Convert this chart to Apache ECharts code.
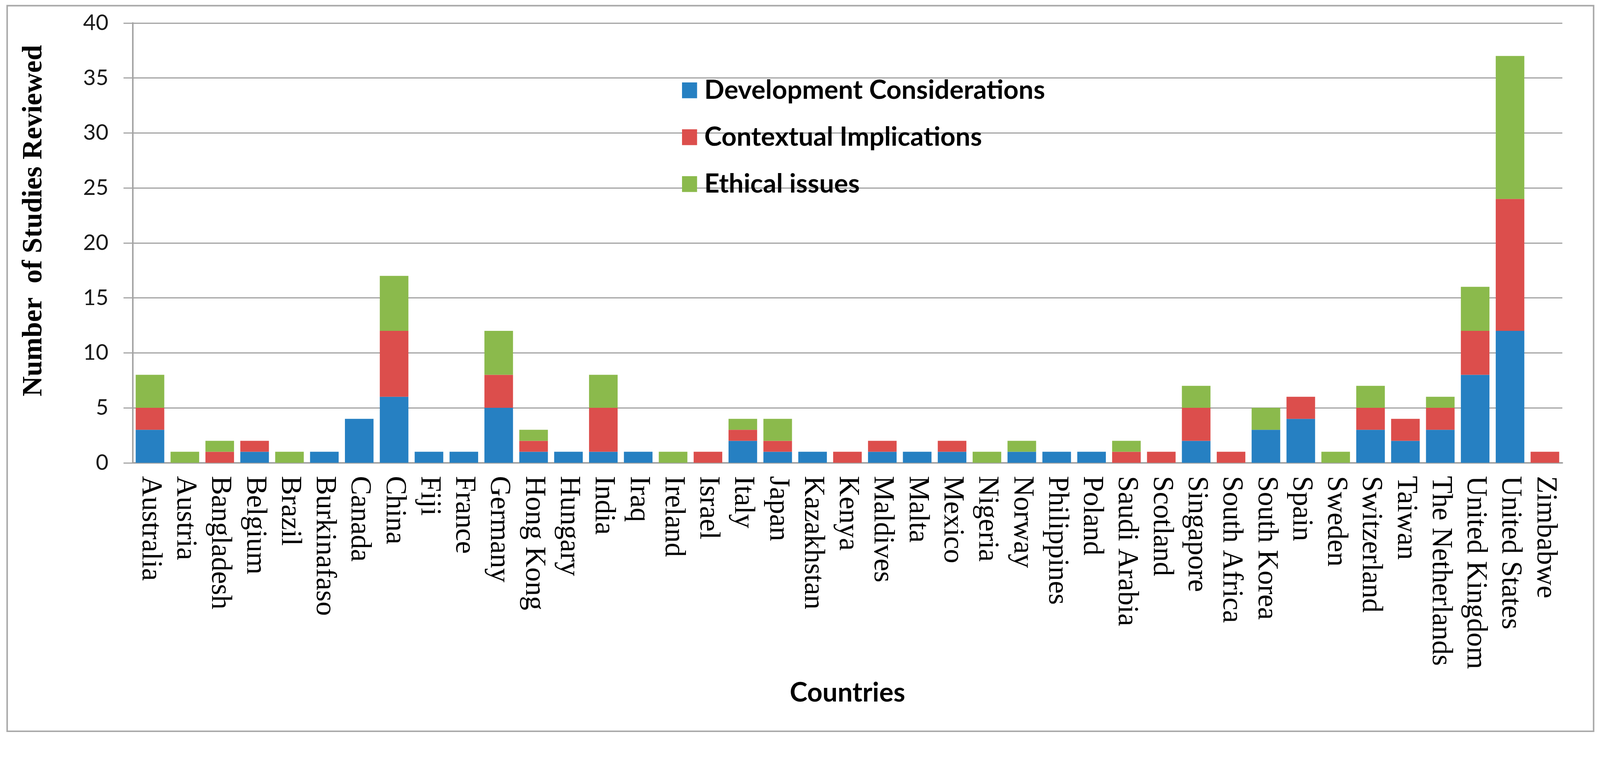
<!DOCTYPE html>
<html>
<head>
<meta charset="utf-8">
<title>Studies reviewed by country</title>
<script src="https://cdn.jsdelivr.net/npm/echarts@6/dist/echarts.min.js"></script>
<style>
    html, body { margin: 0; padding: 0; background: #fff; overflow: hidden; }
    #chart { width: 100vw; height: 100vh; }
</style>
</head>
<body>
<div id="chart"></div>
<script>
    var countries = ['Australia', 'Austria', 'Bangladesh', 'Belgium', 'Brazil', 'Burkinafaso',
        'Canada', 'China', 'Fiji', 'France', 'Germany', 'Hong Kong', 'Hungary', 'India', 'Iraq',
        'Ireland', 'Israel', 'Italy', 'Japan', 'Kazakhstan', 'Kenya', 'Maldives', 'Malta',
        'Mexico', 'Nigeria', 'Norway', 'Philippines', 'Poland', 'Saudi Arabia', 'Scotland',
        'Singapore', 'South Africa', 'South Korea', 'Spain', 'Sweden', 'Switzerland', 'Taiwan',
        'The Netherlands', 'United Kingdom', 'United States', 'Zimbabwe'];

    var development = [3, 0, 0, 1, 0, 1, 4, 6, 1, 1, 5, 1, 1, 1, 1, 0, 0, 2, 1, 1, 0,
        1, 1, 1, 0, 1, 1, 1, 0, 0, 2, 0, 3, 4, 0, 3, 2, 3, 8, 12, 0];
    var contextual = [2, 0, 1, 1, 0, 0, 0, 6, 0, 0, 3, 1, 0, 4, 0, 0, 1, 1, 1, 0, 1,
        1, 0, 1, 0, 0, 0, 0, 1, 1, 3, 1, 0, 2, 0, 2, 2, 2, 4, 12, 1];
    var ethical = [3, 1, 1, 0, 1, 0, 0, 5, 0, 0, 4, 1, 0, 3, 0, 1, 0, 1, 2, 0, 0,
        0, 0, 0, 1, 1, 0, 0, 1, 0, 2, 0, 2, 0, 1, 2, 0, 1, 4, 13, 0];

    var seriesNames = ['Development Considerations', 'Contextual Implications', 'Ethical issues'];
    var colors = ['#2680c2', '#dc4e4c', '#8bba4c'];

    var gridColor = '#a3a3a3';
    var sans = 'Lato, "Open Sans", sans-serif';
    var serif = '"Liberation Serif", "Times New Roman", serif';

    var el = document.getElementById('chart');
    // layout was measured on a 4249 x 1961 picture; scale to whatever the viewport really is
    var s = Math.min(el.clientWidth / 4249, el.clientHeight / 1961);
    var px = function (v) { return Math.round(v * s * 100) / 100; };

    var myChart = echarts.init(el);

    var makeSeries = function (name, data) {
        return {
            name: name,
            type: 'bar',
            stack: 'total',
            barCategoryGap: '18%',
            data: data
        };
    };

    myChart.setOption({
        animation: false,
        backgroundColor: '#fff',
        color: colors,
        grid: { left: px(352), right: el.clientWidth - px(4149), top: px(61), bottom: el.clientHeight - px(1229) },
        legend: {
            orient: 'vertical',
            left: px(1806),
            top: px(200),
            icon: 'rect',
            itemWidth: px(40),
            itemHeight: px(42),
            itemGap: px(55),
            selectedMode: false,
            textStyle: {
                fontFamily: sans,
                fontWeight: 'bold',
                fontSize: px(70),
                color: '#000',
                padding: [0, 0, 0, px(14)]
            },
            data: seriesNames
        },
        xAxis: {
            type: 'category',
            data: countries,
            name: 'Countries',
            nameLocation: 'middle',
            nameGap: px(611),
            nameTextStyle: {
                fontFamily: sans,
                fontWeight: 'bold',
                fontSize: px(71),
                color: '#000',
                verticalAlign: 'middle'
            },
            axisTick: { show: false },
            axisLine: { lineStyle: { color: gridColor, width: px(4) } },
            axisLabel: {
                interval: 0,
                rotate: -90,
                margin: px(35),
                fontFamily: serif,
                fontSize: px(76),
                color: '#000'
            }
        },
        yAxis: {
            type: 'value',
            min: 0,
            max: 40,
            interval: 5,
            axisLine: { show: true, lineStyle: { color: gridColor, width: px(4) } },
            axisTick: { show: true, length: px(24), lineStyle: { color: gridColor, width: px(3) } },
            splitLine: { lineStyle: { color: gridColor, width: px(3) } },
            axisLabel: {
                margin: px(64),
                fontFamily: sans,
                fontSize: px(58),
                color: '#1a1a1a'
            }
        },
        graphic: [{
            type: 'rect',
            z: -10,
            shape: { x: px(19), y: px(15), width: px(4213), height: px(1927) },
            style: { fill: null, stroke: '#a8a8a8', lineWidth: px(4) }
        }, {
            type: 'text',
            x: px(91),
            y: px(586),
            rotation: Math.PI / 2,
            style: {
                text: 'Number  of Studies Reviewed',
                font: 'bold ' + px(74) + 'px ' + serif,
                fill: '#000',
                align: 'center',
                verticalAlign: 'middle'
            }
        }],
        series: [
            makeSeries(seriesNames[0], development),
            makeSeries(seriesNames[1], contextual),
            makeSeries(seriesNames[2], ethical)
        ]
    });
</script>
</body>
</html>
